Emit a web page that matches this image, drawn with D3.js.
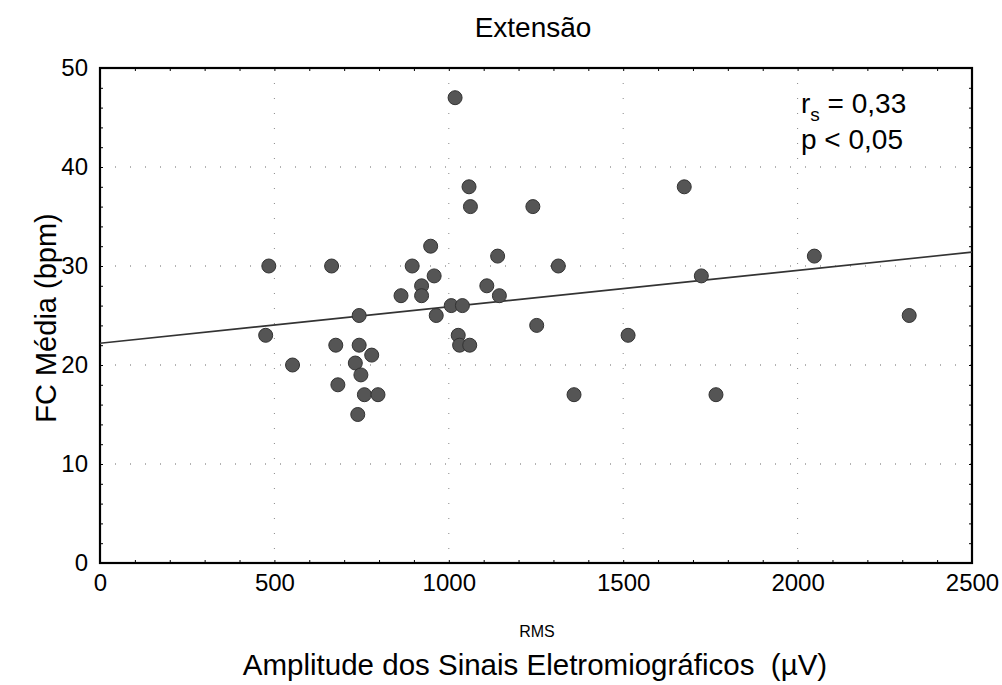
<!DOCTYPE html>
<html>
<head>
<meta charset="utf-8">
<script src="https://cdn.jsdelivr.net/npm/d3@7"></script>
<style>
  body { margin: 0; background: #fff; }
  svg { font-family: "Liberation Sans", Arial, sans-serif; }
</style>
</head>
<body>
<div class="chart"></div>
<script>
// RMS amplitude (µV) and mean HR (bpm)
const rms = [484, 475, 552, 664, 676, 682, 743, 743, 732, 748, 758, 797, 739, 779,
             863, 895, 922, 922, 948, 958, 964, 1007, 1039, 1018, 1027, 1031, 1060,
             1058, 1062, 1109, 1140, 1145, 1241, 1252, 1314, 1359, 1514, 1675, 1724,
             1766, 2048, 2320];
const fc = [30, 23, 20, 30, 22, 18, 25, 22, 20.2, 19, 17, 17, 15, 21,
            27, 30, 28, 27, 32, 29, 25, 26, 26, 47, 23, 22, 22,
            38, 36, 28, 31, 27, 36, 24, 30, 17, 23, 38, 29,
            17, 31, 25];
const fitX = [0, 2500];
const fitY = [22.2, 31.4];
const xTicks = [0, 500, 1000, 1500, 2000, 2500];
const yTicks = [0, 10, 20, 30, 40, 50];

const W = 1002, H = 685;
const margin = {top: 68, right: 30, bottom: 122, left: 100};
const width = W - margin.left - margin.right;
const height = H - margin.top - margin.bottom;

const svg = d3.select('.chart').append('svg')
    .attr('width', W)
    .attr('height', H);

const g = svg.append('g')
    .attr('transform', 'translate(' + margin.left + ',' + margin.top + ')');

const x = d3.scaleLinear().domain([0, 2500]).range([0, width]);
const y = d3.scaleLinear().domain([0, 50]).range([height, 0]);

// dotted grid at major ticks
g.selectAll('.gx').data(xTicks.slice(1, -1)).enter().append('line')
    .attr('x1', d => x(d)).attr('x2', d => x(d))
    .attr('y1', 0).attr('y2', height)
    .style('stroke', '#888').style('stroke-width', 1)
    .style('stroke-dasharray', '1,14');
g.selectAll('.gy').data(yTicks.slice(1, -1)).enter().append('line')
    .attr('x1', 0).attr('x2', width)
    .attr('y1', d => y(d)).attr('y2', d => y(d))
    .style('stroke', '#666').style('stroke-width', 1)
    .style('stroke-dasharray', '1,14');

// minor inward ticks on all four sides
const minorX = d3.range(0, 2501, 100);
const minorY = d3.range(0, 51, 2);
g.append('g').attr('transform', 'translate(0,' + height + ')')
    .call(d3.axisTop(x).tickValues(minorX).tickSize(3).tickFormat(''));
g.append('g')
    .call(d3.axisTop(x).tickValues(minorX).tickSize(-3).tickFormat(''));
g.append('g')
    .call(d3.axisRight(y).tickValues(minorY).tickSize(3).tickFormat(''));
g.append('g').attr('transform', 'translate(' + width + ',0)')
    .call(d3.axisLeft(y).tickValues(minorY).tickSize(3).tickFormat(''));
g.selectAll('.domain').remove();

// frame
g.append('rect')
    .attr('width', width).attr('height', height)
    .style('fill', 'none').style('stroke', '#000').style('stroke-width', 2.2);

// tick labels
const xAxis = g.append('g').attr('transform', 'translate(0,' + height + ')')
    .call(d3.axisBottom(x).tickValues(xTicks).tickSize(0).tickPadding(11).tickFormat(d3.format('d')));
xAxis.select('.domain').remove();
xAxis.selectAll('text').style('font-size', '24px').style('fill', '#000');

const yAxis = g.append('g')
    .call(d3.axisLeft(y).tickValues(yTicks).tickSize(0).tickPadding(12));
yAxis.select('.domain').remove();
yAxis.selectAll('text').style('font-size', '24px').style('fill', '#000');

// regression line
const line = d3.line().x(d => x(d[0])).y(d => y(d[1]));
g.append('path')
    .datum(fitX.map((v, i) => [v, fitY[i]]))
    .attr('d', line)
    .style('fill', 'none').style('stroke', '#333').style('stroke-width', 1.6);

// points
g.selectAll('.dot').data(rms).enter().append('circle')
    .attr('class', 'dot')
    .attr('cx', d => x(d))
    .attr('cy', (d, i) => y(fc[i]))
    .attr('r', 7)
    .style('fill', '#555')
    .style('stroke', '#333')
    .style('stroke-width', 1);

// annotation
const ann = g.append('text').attr('x', 701).attr('y', 45)
    .style('font-size', '28px');
ann.append('tspan').text('r');
ann.append('tspan').attr('dy', 8).style('font-size', '19px').text('s');
ann.append('tspan').attr('dy', -8).text(' = 0,33');
g.append('text').attr('x', 701).attr('y', 81)
    .style('font-size', '28px').text('p < 0,05');

// titles
svg.append('text').attr('x', 533).attr('y', 37)
    .attr('text-anchor', 'middle').style('font-size', '28px').text('Extensão');
svg.append('text').attr('x', 537).attr('y', 637)
    .attr('text-anchor', 'middle').style('font-size', '16px').text('RMS');
svg.append('text').attr('x', 535).attr('y', 675)
    .attr('text-anchor', 'middle').style('font-size', '29.5px')
    .style('white-space', 'pre')
    .text('Amplitude dos Sinais Eletromiográficos  (µV)');
svg.append('text')
    .attr('transform', 'translate(56,318) rotate(-90)')
    .attr('text-anchor', 'middle').style('font-size', '29px')
    .text('FC Média (bpm)');
</script>
</body>
</html>
